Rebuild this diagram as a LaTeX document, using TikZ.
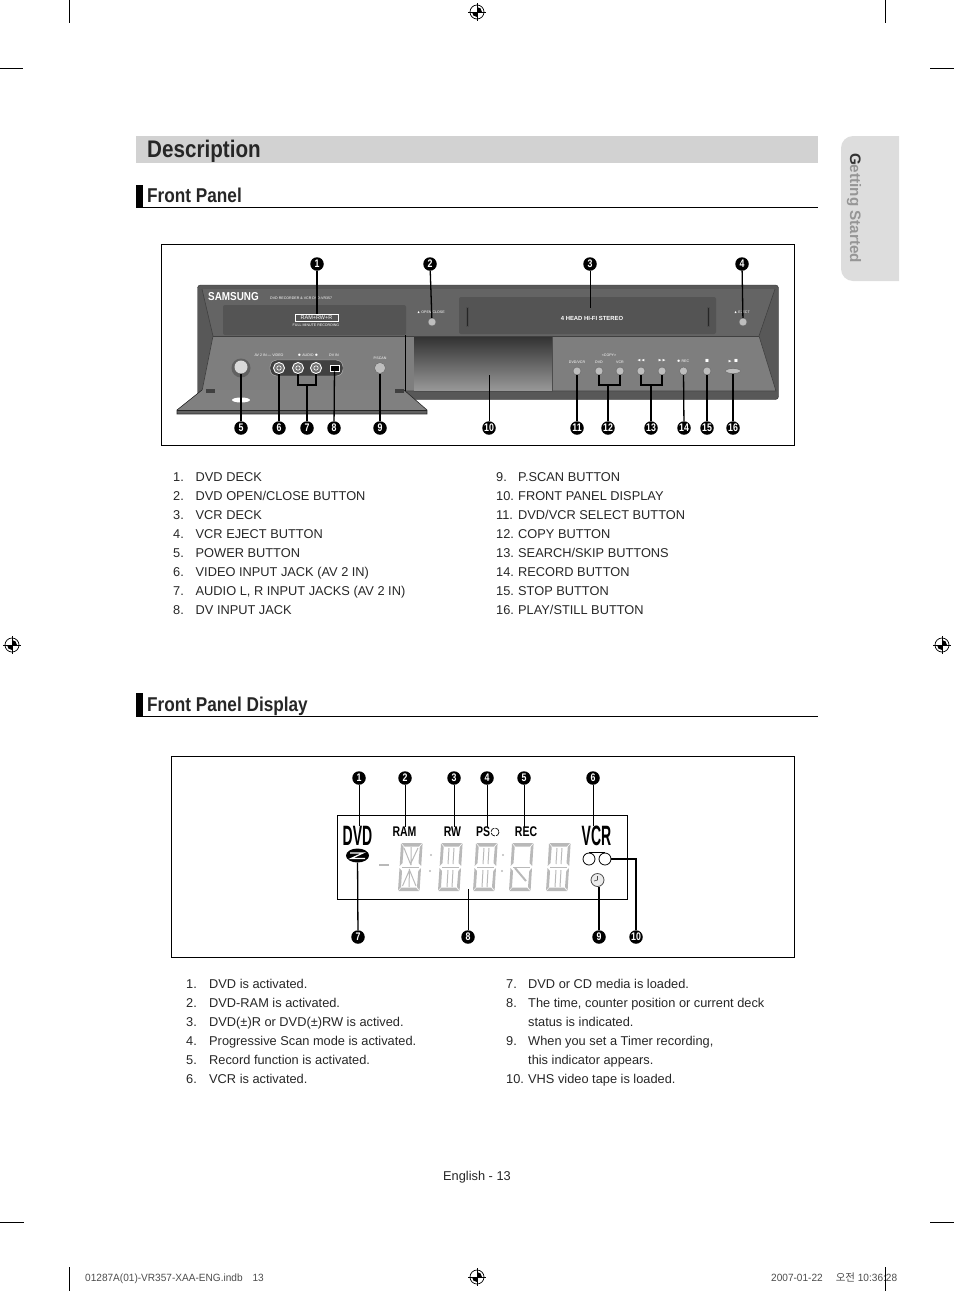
\documentclass[tikz,border=0pt]{standalone}
\usepackage{amssymb}
\usepackage{amsmath}
\usepackage{fontspec}
\setmainfont{Liberation Sans}
\newfontfamily\headfont[FakeStretch=0.86]{Liberation Sans}
\newfontfamily\tallfont[FakeStretch=0.5]{Liberation Sans}
\newfontfamily\ramfont[FakeStretch=0.75]{Liberation Sans}
\newfontfamily\markfont[FakeStretch=0.8]{Liberation Sans}
\newfontfamily\slugfont[FakeStretch=0.96]{Liberation Sans}
\newfontfamily\cjkfont{Noto Sans CJK KR}
\usepackage{xcolor}
\usepackage{tikz}
\usetikzlibrary{arrows.meta,positioning,calc,shapes.geometric}
\definecolor{barbg}{RGB}{210,210,210}
\definecolor{tabbg}{RGB}{221,221,221}
\definecolor{tabtext}{RGB}{150,150,150}
\definecolor{lcdgrey}{RGB}{185,185,185}
\definecolor{bodydark}{RGB}{88,88,88}
\definecolor{faceupper}{RGB}{100,100,100}
\definecolor{facelower}{RGB}{126,126,126}
\definecolor{deckbg}{RGB}{84,84,84}
\definecolor{btnbg}{RGB}{190,190,190}
\newcommand{\lcddigit}[2]{%
  \begin{scope}[shift={(#1,843)}]
    \fill[lcdgrey] (3.5,0) -- (24,0) -- (21,3.5) -- (6.5,3.5) -- cycle;
    \fill[lcdgrey] (24.6,.5) -- (23.2,23) -- (20.5,20) -- (21.8,4) -- cycle;
    \fill[lcdgrey] (23,25) -- (21.6,47.5) -- (19,44) -- (20.3,28) -- cycle;
    \fill[lcdgrey] (21,48) -- (.5,48) -- (3.5,44.5) -- (18,44.5) -- cycle;
    \fill[lcdgrey] (0,47.5) -- (1.5,25) -- (4,28) -- (3,44) -- cycle;
    \fill[lcdgrey] (1.7,23) -- (3,.5) -- (5.7,4) -- (4.5,20) -- cycle;
    \draw[lcdseg] (4,24) -- (21,24);
    #2
  \end{scope}}
\newcommand{\regmark}[2]{%
  \begin{scope}[shift={(#1,#2)}]
    \draw[line width=.7pt] (0,0) circle (7);
    \fill (0,-5) arc (-90:0:5) -- (0,0) -- cycle;
    \fill (0,5) arc (90:180:5) -- (0,0) -- cycle;
    \draw[line width=.7pt] (-9,0) -- (9,0) (0,-9) -- (0,9);
  \end{scope}}
\begin{document}
\begin{tikzpicture}[x=1pt,y=-1pt,
    listitem/.style={anchor=base west,inner sep=0pt,font=\fontsize{12.8}{13}\selectfont,text=black!85},
    sechead/.style={anchor=base west,inner sep=0pt,font=\headfont\bfseries\fontsize{20}{20}\selectfont,text=black!85},
    numdot/.style={circle,fill=black,text=white,inner sep=0pt,minimum size=13.5pt,font=\markfont\bfseries\fontsize{11}{11}\selectfont},
    lead/.style={draw=black,line width=1.3pt},
    thinlead/.style={draw=black,line width=.8pt},
    lcdseg/.style={draw=lcdgrey,line width=1pt},
    btn/.style={circle,draw=black!60,fill=btnbg,inner sep=0pt,minimum size=8pt},
    jack/.style={circle,draw=white,fill=black!55,line width=.9pt,inner sep=0pt,minimum size=11pt},
    tiny/.style={inner sep=0pt,text=white,font=\fontsize{3.6}{4}\selectfont},
    lcdword/.style={inner sep=0pt,font=\ramfont\bfseries\fontsize{14}{14}\selectfont},
    bigword/.style={inner sep=0pt,font=\tallfont\bfseries\fontsize{28}{28}\selectfont},
    slug/.style={anchor=base west,inner sep=0pt,text=black!70,font=\slugfont\fontsize{10.5}{11}\selectfont}]
  \useasboundingbox (0,0) rectangle (954,1291);
  % crop marks
  \draw[line width=.7pt] (69,0) -- (69,23) (885,0) -- (885,23) (0,68) -- (23,68) (930,68) -- (954,68);
  \draw[line width=.7pt] (69,1267) -- (69,1291) (885,1267) -- (885,1291) (0,1222) -- (24,1222) (930,1222) -- (954,1222);
  \regmark{477}{12}
  \regmark{12}{645}
  \regmark{942}{645}
  \regmark{477}{1277}
  % headings
  \fill[barbg] (136,136) rectangle (818,163);
  \node[sechead,font=\headfont\bfseries\fontsize{24}{24}\selectfont] (title) at (147,157.5) {Description};
  \fill[tabbg,rounded corners=12pt] (899,136) -- (841,136) -- (841,281) -- (899,281);
  \fill[tabbg] (880,136) rectangle (899,281);
  \node[rotate=-90,inner sep=0pt,text=tabtext,font=\bfseries\fontsize{15.2}{16}\selectfont] (tab) at (854,208) {\textcolor{black!80}{G}etting Started};
  \fill[black] (136,185) rectangle (143,207);
  \draw[line width=.8pt] (136,207.5) -- (818,207.5);
  \node[sechead] (front) at (147,202) {Front Panel};
  \fill[black] (136,693) rectangle (143,716);
  \draw[line width=.8pt] (136,716.5) -- (818,716.5);
  \node[sechead] (display) at (147,711) {Front Panel Display};
  % front panel
  \draw[line width=.8pt] (161.5,244.5) rectangle (794.5,445.5);
  \filldraw[fill=bodydark,draw=black!80,rounded corners=3pt] (197.5,285) rectangle (778.5,399.5);
  \fill[faceupper] (202,289) -- (775,289) -- (759,336) -- (213,336) -- cycle;
  \fill[facelower] (213,336) -- (759,336) -- (776,391) -- (202,391) -- cycle;
  \draw[black!75,line width=.6pt] (202,289) -- (213,336) -- (202,391) (775,289) -- (759,336) -- (776,391) -- (405,391);
  \draw[black!75,line width=.6pt] (213,336) -- (759,336);
  \fill[deckbg,rounded corners=2pt] (223,305) rectangle (406,335);
  \fill[deckbg,rounded corners=2pt] (459,297) rectangle (716,334);
  \draw[black!70,fill=black!85] (466,307) rectangle (468,326);
  \draw[black!70,fill=black!85] (707,307) rectangle (709,326);
  \shade[top color=black!80,bottom color=black!40] (414,337) rectangle (552,391);
  \draw[black!70] (414,391) -- (552,391) -- (552,337);
  \draw[black,line width=1pt] (405,335) -- (405,391);
  \node[inner sep=0pt,text=white,font=\headfont\bfseries\fontsize{11.5}{11}\selectfont] (samsung) at (233.5,296.5) {SAMSUNG};
  \node[tiny,anchor=west] (model) at (270,298.5) {DVD RECORDER \& VCR  DVD-VR357};
  \node[draw=white,line width=.5pt,inner sep=0pt,minimum width=43pt,minimum height=7pt,text=white,font=\fontsize{5.5}{6}\selectfont] (ramlogo) at (316.5,317.5) {RAM+RW+R};
  \node[tiny] (minute) at (316,325) {FULL MINUTE RECORDING};
  \node[tiny] (openlbl) at (431,312) {$\blacktriangle$ OPEN/CLOSE};
  \node[btn] (openbtn) at (432,322) {};
  \node[tiny,font=\bfseries\fontsize{5.9}{6}\selectfont] (vcrlbl) at (592,318) {4 HEAD HI-FI STEREO};
  \node[tiny] (ejectlbl) at (742,312) {$\blacktriangle$ EJECT};
  \node[btn] (ejectbtn) at (743,322) {};
  % door and jacks
  \fill[black!50] (202,390) -- (404,390) -- (427,410) -- (177,410) -- cycle;
  \fill[black!62] (177,410) rectangle (427,414);
  \draw[black!85,line width=.6pt] (202,390) -- (177,410) -- (177,414) -- (427,414) -- (427,410) -- (404,390);
  \draw[black!85,line width=.5pt] (177,410) -- (427,410);
  \fill[black!75] (206,389) rectangle (215,393);
  \fill[black!75] (395,389) rectangle (404,393);
  \fill[white] (241,400) ellipse (9 and 2.5);
  \fill[black!62] (241,368) circle (9.5);
  \node[circle,fill=black!15,inner sep=0pt,minimum size=13pt] (power) at (241,367) {};
  \fill[black!75,draw=black!25,rounded corners=7pt] (270,360) rectangle (343,376);
  \node[tiny] (avlbl) at (269,355.5) {AV 2 IN --- VIDEO};
  \node[tiny] (audiolbl) at (308,355.5) {$\bullet$ AUDIO $\bullet$};
  \node[tiny] (dvlbl) at (334,355.5) {DV IN};
  \node[jack] (video) at (279,368) {};
  \node[jack] (audiol) at (298,368) {};
  \node[jack] (audior) at (316,368) {};
  \draw[white,line width=.6pt] (video) circle (2.2) (audiol) circle (2.2) (audior) circle (2.2);
  \node[draw=white,fill=black,inner sep=0pt,minimum width=9pt,minimum height=6pt,line width=.5pt] (dvin) at (334.5,368) {};
  \node[tiny] (pscanlbl) at (380,358.5) {P.SCAN};
  \node[btn,minimum size=11pt] (pscan) at (380,368) {};
  \node[tiny] (selectlbl) at (577,362) {DVD/VCR};
  \node[tiny] (copylbl) at (609,355.5) {<COPY>};
  \node[tiny] (dvdlbl) at (599,362) {DVD};
  \node[tiny] (vcrcopylbl) at (620,362) {VCR};
  \node[tiny] (revlbl) at (641,361) {$\blacktriangleleft\blacktriangleleft$};
  \node[tiny] (fwdlbl) at (662,361) {$\blacktriangleright\blacktriangleright$};
  \node[tiny] (reclbl) at (683,361) {$\bullet$ REC};
  \node[tiny] (stoplbl) at (707,361) {$\blacksquare$};
  \node[tiny] (playlbl) at (733,361) {$\blacktriangleright\blacksquare$};
  \node[btn] (select) at (577,371) {};
  \node[btn] (copydvd) at (599,371) {};
  \node[btn] (copyvcr) at (620,371) {};
  \node[btn] (skipl) at (641,371) {};
  \node[btn] (skipr) at (662,371) {};
  \node[btn] (record) at (683.5,371) {};
  \node[btn] (stopbtn) at (707,371) {};
  \node[ellipse,draw=black!60,fill=btnbg,inner sep=0pt,minimum width=15pt,minimum height=5pt] (playbtn) at (733,371) {};
  % front panel markers
  \node[numdot] (n1) at (317,264) {1};
  \node[numdot] (n2) at (430,264) {2};
  \node[numdot] (n3) at (590,264) {3};
  \node[numdot] (n4) at (742,264) {4};
  \node[numdot] (n5) at (241,428) {5};
  \node[numdot] (n6) at (279,428) {6};
  \node[numdot] (n7) at (307,428) {7};
  \node[numdot] (n8) at (334,428) {8};
  \node[numdot] (n9) at (380,428) {9};
  \node[numdot] (n10) at (489,428) {10};
  \node[numdot] (n11) at (577,428) {11};
  \node[numdot] (n12) at (608,428) {12};
  \node[numdot] (n13) at (651,428) {13};
  \node[numdot] (n14) at (684,428) {14};
  \node[numdot] (n15) at (707,428) {15};
  \node[numdot] (n16) at (733,428) {16};
  \coordinate (b7) at (307,385);
  \coordinate (b12) at (608,385);
  \coordinate (b13) at (651,385);
  \coordinate (d10) at (489,375);
  \coordinate (d3) at (590,308);
  \draw[lead] (n1) -- (ramlogo.north -| n1);
  \draw[lead] (n2) -- (openbtn);
  \draw[thinlead] (n3) -- (d3);
  \draw[lead] (n4) -- (ejectbtn);
  \draw[lead] (n5) -- (power);
  \draw[lead] (n6) -- (video);
  \draw[lead] (n7) -- (b7);
  \draw[lead] (audiol) |- (b7) -| (audior);
  \draw[lead] (n8) -- (dvin);
  \draw[lead] (n9) -- (pscan);
  \draw[thinlead] (n10) -- (d10);
  \draw[lead] (n11) -- (select);
  \draw[lead] (n12) -- (b12);
  \draw[lead] (copydvd) |- (b12) -| (copyvcr);
  \draw[lead] (n13) -- (b13);
  \draw[lead] (skipl) |- (b13) -| (skipr);
  \draw[lead] (n14) -- (record);
  \draw[lead] (n15) -- (stopbtn);
  \draw[lead] (n16) -- (playbtn);
  % front panel list
  \node[listitem] (a1) at (173,481.5) {1.};       \node[listitem] (t1) at (195.5,481.5) {DVD DECK};
  \node[listitem] (a2) at (173,500.5) {2.};       \node[listitem] (t2) at (195.5,500.5) {DVD OPEN/CLOSE BUTTON};
  \node[listitem] (a3) at (173,519.5) {3.};       \node[listitem] (t3) at (195.5,519.5) {VCR DECK};
  \node[listitem] (a4) at (173,538.5) {4.};       \node[listitem] (t4) at (195.5,538.5) {VCR EJECT BUTTON};
  \node[listitem] (a5) at (173,557.5) {5.};       \node[listitem] (t5) at (195.5,557.5) {POWER BUTTON};
  \node[listitem] (a6) at (173,576.5) {6.};       \node[listitem] (t6) at (195.5,576.5) {VIDEO INPUT JACK (AV 2 IN)};
  \node[listitem] (a7) at (173,595.5) {7.};       \node[listitem] (t7) at (195.5,595.5) {AUDIO L, R INPUT JACKS (AV 2 IN)};
  \node[listitem] (a8) at (173,614.5) {8.};       \node[listitem] (t8) at (195.5,614.5) {DV INPUT JACK};
  \node[listitem] (a9) at (496,481.5) {9.};       \node[listitem] (t9) at (518,481.5) {P.SCAN BUTTON};
  \node[listitem] (a10) at (496,500.5) {10.};     \node[listitem] (t10) at (518,500.5) {FRONT PANEL DISPLAY};
  \node[listitem] (a11) at (496,519.5) {11.};     \node[listitem] (t11) at (518,519.5) {DVD/VCR SELECT BUTTON};
  \node[listitem] (a12) at (496,538.5) {12.};     \node[listitem] (t12) at (518,538.5) {COPY BUTTON};
  \node[listitem] (a13) at (496,557.5) {13.};     \node[listitem] (t13) at (518,557.5) {SEARCH/SKIP BUTTONS};
  \node[listitem] (a14) at (496,576.5) {14.};     \node[listitem] (t14) at (518,576.5) {RECORD BUTTON};
  \node[listitem] (a15) at (496,595.5) {15.};     \node[listitem] (t15) at (518,595.5) {STOP BUTTON};
  \node[listitem] (a16) at (496,614.5) {16.};     \node[listitem] (t16) at (518,614.5) {PLAY/STILL BUTTON};
  % display panel
  \draw[line width=.8pt] (171.5,756.5) rectangle (794.5,957.5);
  \draw[line width=.8pt] (337,815.5) rectangle (627,899.5);
  \node[bigword] (dvdword) at (357.5,836) {DVD};
  \node[bigword] (vcrword) at (596.5,836) {VCR};
  \node[lcdword] (ramword) at (404.5,832) {RAM};
  \node[lcdword] (rwword) at (452.5,832) {RW};
  \node[lcdword,anchor=west] (psword) at (476,832) {PS};
  \draw[line width=.7pt,dash pattern=on 5pt off 1.3pt] (495,832) circle (4);
  \coordinate (pscircle) at (487,827);
  \node[lcdword] (recword) at (526,832) {REC};
  \node[ellipse,fill=black,inner sep=0pt,minimum width=23pt,minimum height=14pt] (disc) at (357.5,855.5) {};
  \draw[white,line width=1.2pt] (350,853) -- (363,853) -- (351,858.5) -- (365,858.5);
  \node[circle,draw=black,line width=.8pt,inner sep=0pt,minimum size=12pt] (tapel) at (589,859) {};
  \node[circle,draw=black,line width=.8pt,inner sep=0pt,minimum size=12pt] (taper) at (605,859) {};
  \draw[line width=1pt] (589,852.5) -- (605,852.5);
  \node[circle,draw=black!70,fill=black!8,line width=.8pt,inner sep=0pt,minimum size=13pt] (clock) at (597.5,880) {};
  \draw[black!70,line width=.6pt] (597.5,876) -- (597.5,880) -- (594,881);
  \draw[lcdgrey,line width=2.6pt] (379,865) -- (389,865);
  \lcddigit{398}{\draw[lcdseg] (6,5) -- (12.5,21) -- (20,5) (4.5,43) -- (11.5,27) -- (18,43) (13,4) -- (13,22) (11.5,26) -- (11,44);}
  \lcddigit{438}{\draw[lcdseg] (11,5) -- (10,21) (16,5) -- (15,21) (10,27) -- (9,44) (15,27) -- (14,44);}
  \lcddigit{473}{\draw[lcdseg] (11,5) -- (10,21) (16,5) -- (15,21) (10,27) -- (9,44) (15,27) -- (14,44);}
  \lcddigit{509}{\draw[lcdseg,line width=2pt] (6,25) -- (17,38);}
  \lcddigit{546}{\draw[lcdseg] (11,5) -- (10,21) (16,5) -- (15,21) (10,27) -- (9,44) (15,27) -- (14,44);}
  \fill[lcdgrey] (431,855) circle (1.2) (430,871) circle (1.2) (503,855) circle (1.2) (502,871) circle (1.2);
  % display markers
  \node[numdot] (m1) at (359,778) {1};
  \node[numdot] (m2) at (405,778) {2};
  \node[numdot] (m3) at (454,778) {3};
  \node[numdot] (m4) at (487,778) {4};
  \node[numdot] (m5) at (524,778) {5};
  \node[numdot] (m6) at (593,778) {6};
  \node[numdot] (m7) at (358,937) {7};
  \node[numdot] (m8) at (468,937) {8};
  \node[numdot] (m9) at (599,937) {9};
  \node[numdot] (m10) at (636,937) {10};
  \coordinate (d8) at (468,889);
  \draw[thinlead] (m1) -- (dvdword.north -| m1);
  \draw[thinlead] (m2) -- (ramword.north -| m2);
  \draw[thinlead] (m3) -- (rwword.north -| m3);
  \draw[thinlead] (m4) -- (pscircle);
  \draw[thinlead] (m5) -- (recword.north -| m5);
  \draw[thinlead] (m6) -- (vcrword.north -| m6);
  \draw[lead] (m7) -- (disc);
  \draw[thinlead] (m8) -- (d8);
  \draw[lead] (m9) -- (clock.south -| m9);
  \draw[lead] (m10) |- (taper);
  % display list
  \node[listitem] (c1) at (186,988.5) {1.};       \node[listitem] (e1) at (209,988.5) {DVD is activated.};
  \node[listitem] (c2) at (186,1007.5) {2.};      \node[listitem] (e2) at (209,1007.5) {DVD-RAM is activated.};
  \node[listitem] (c3) at (186,1026.5) {3.};      \node[listitem] (e3) at (209,1026.5) {DVD(±)R or DVD(±)RW is actived.};
  \node[listitem] (c4) at (186,1045.5) {4.};      \node[listitem] (e4) at (209,1045.5) {Progressive Scan mode is activated.};
  \node[listitem] (c5) at (186,1064.5) {5.};      \node[listitem] (e5) at (209,1064.5) {Record function is activated.};
  \node[listitem] (c6) at (186,1083.5) {6.};      \node[listitem] (e6) at (209,1083.5) {VCR is activated.};
  \node[listitem] (c7) at (506,988.5) {7.};       \node[listitem] (e7) at (528,988.5) {DVD or CD media is loaded.};
  \node[listitem] (c8) at (506,1007.5) {8.};      \node[listitem] (e8) at (528,1007.5) {The time, counter position or current deck};
  \node[listitem] (e8b) at (528,1026.5) {status is indicated.};
  \node[listitem] (c9) at (506,1045.5) {9.};      \node[listitem] (e9) at (528,1045.5) {When you set a Timer recording,};
  \node[listitem] (e9b) at (528,1064.5) {this indicator appears.};
  \node[listitem] (c10) at (506,1083.5) {10.};    \node[listitem] (e10) at (528,1083.5) {VHS video tape is loaded.};
  % footer
  \node[listitem,anchor=base] (pageno) at (477,1180.5) {English - 13};
  \node[slug] (slugl) at (85,1281) {01287A(01)-VR357-XAA-ENG.indb\hspace{10pt}13};
  \node[slug] (slugr) at (771,1281) {2007-01-22\hspace{13pt}{\cjkfont 오전} 10:36:28};
\end{tikzpicture}
\end{document}
